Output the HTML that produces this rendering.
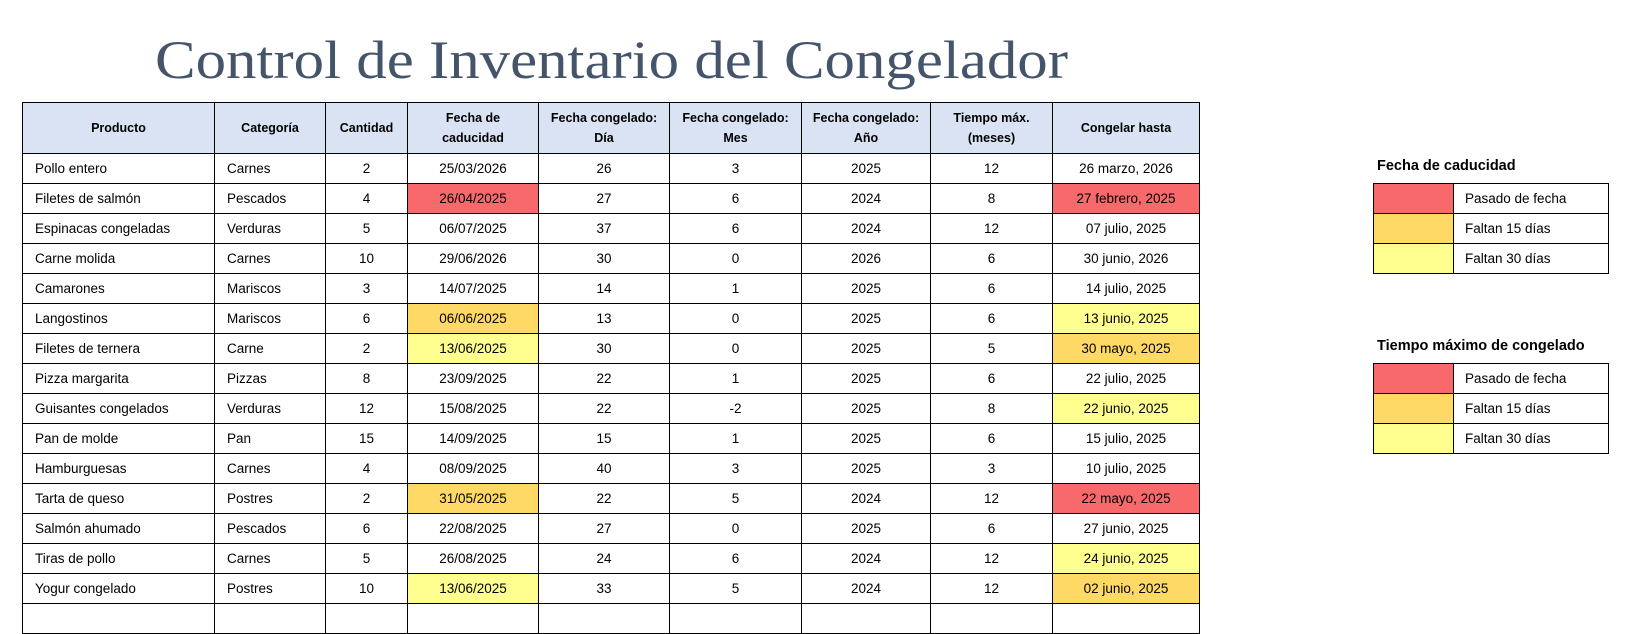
<!DOCTYPE html>
<html><head><meta charset="utf-8"><style>
body{margin:0;width:1637px;height:634px;background:#fff;position:relative;overflow:hidden;font-family:"Liberation Sans",sans-serif;}
table{border-collapse:collapse;table-layout:fixed;position:absolute;}
td{border:1px solid #000;padding:0;font-size:13.5px;color:#000;text-align:center;white-space:nowrap;overflow:hidden;}
#t{left:22px;top:102px;width:1177px;}
#t tr{height:30px;}
#t tr.h{height:51px;background:#dae3f3;}
#t tr.h td{font-weight:bold;font-size:12.5px;line-height:20px;}
td.l{text-align:left;padding-left:12px;}
.R{background:#f8696b}.O{background:#ffd966}.Y{background:#ffff8f}
.leg{left:1373px;width:236px;}
.leg tr{height:30px;}
.leg td.c{width:79px;}
.leg td.x{text-align:left;padding-left:11px;}
.lt{position:absolute;left:1377px;font-weight:bold;font-size:14.5px;}
</style></head><body>
<svg style="position:absolute;left:0;top:0" width="1637" height="100"><text x="155" y="78" textLength="913" lengthAdjust="spacingAndGlyphs" font-family="Liberation Serif, serif" font-size="54" fill="#44546a">Control de Inventario del Congelador</text></svg>
<table id="t">
<colgroup><col style="width:192px"><col style="width:111px"><col style="width:82px"><col style="width:131px"><col style="width:131px"><col style="width:132px"><col style="width:129px"><col style="width:122px"><col style="width:147px"></colgroup>
<tr class="h"><td>Producto</td><td>Categoría</td><td>Cantidad</td><td>Fecha de<br>caducidad</td><td>Fecha congelado:<br>Día</td><td>Fecha congelado:<br>Mes</td><td>Fecha congelado:<br>Año</td><td>Tiempo máx.<br>(meses)</td><td>Congelar hasta</td></tr>
<tr><td class="l">Pollo entero</td><td class="l">Carnes</td><td>2</td><td>25/03/2026</td><td>26</td><td>3</td><td>2025</td><td>12</td><td>26 marzo, 2026</td></tr>
<tr><td class="l">Filetes de salmón</td><td class="l">Pescados</td><td>4</td><td class="R">26/04/2025</td><td>27</td><td>6</td><td>2024</td><td>8</td><td class="R">27 febrero, 2025</td></tr>
<tr><td class="l">Espinacas congeladas</td><td class="l">Verduras</td><td>5</td><td>06/07/2025</td><td>37</td><td>6</td><td>2024</td><td>12</td><td>07 julio, 2025</td></tr>
<tr><td class="l">Carne molida</td><td class="l">Carnes</td><td>10</td><td>29/06/2026</td><td>30</td><td>0</td><td>2026</td><td>6</td><td>30 junio, 2026</td></tr>
<tr><td class="l">Camarones</td><td class="l">Mariscos</td><td>3</td><td>14/07/2025</td><td>14</td><td>1</td><td>2025</td><td>6</td><td>14 julio, 2025</td></tr>
<tr><td class="l">Langostinos</td><td class="l">Mariscos</td><td>6</td><td class="O">06/06/2025</td><td>13</td><td>0</td><td>2025</td><td>6</td><td class="Y">13 junio, 2025</td></tr>
<tr><td class="l">Filetes de ternera</td><td class="l">Carne</td><td>2</td><td class="Y">13/06/2025</td><td>30</td><td>0</td><td>2025</td><td>5</td><td class="O">30 mayo, 2025</td></tr>
<tr><td class="l">Pizza margarita</td><td class="l">Pizzas</td><td>8</td><td>23/09/2025</td><td>22</td><td>1</td><td>2025</td><td>6</td><td>22 julio, 2025</td></tr>
<tr><td class="l">Guisantes congelados</td><td class="l">Verduras</td><td>12</td><td>15/08/2025</td><td>22</td><td>-2</td><td>2025</td><td>8</td><td class="Y">22 junio, 2025</td></tr>
<tr><td class="l">Pan de molde</td><td class="l">Pan</td><td>15</td><td>14/09/2025</td><td>15</td><td>1</td><td>2025</td><td>6</td><td>15 julio, 2025</td></tr>
<tr><td class="l">Hamburguesas</td><td class="l">Carnes</td><td>4</td><td>08/09/2025</td><td>40</td><td>3</td><td>2025</td><td>3</td><td>10 julio, 2025</td></tr>
<tr><td class="l">Tarta de queso</td><td class="l">Postres</td><td>2</td><td class="O">31/05/2025</td><td>22</td><td>5</td><td>2024</td><td>12</td><td class="R">22 mayo, 2025</td></tr>
<tr><td class="l">Salmón ahumado</td><td class="l">Pescados</td><td>6</td><td>22/08/2025</td><td>27</td><td>0</td><td>2025</td><td>6</td><td>27 junio, 2025</td></tr>
<tr><td class="l">Tiras de pollo</td><td class="l">Carnes</td><td>5</td><td>26/08/2025</td><td>24</td><td>6</td><td>2024</td><td>12</td><td class="Y">24 junio, 2025</td></tr>
<tr><td class="l">Yogur congelado</td><td class="l">Postres</td><td>10</td><td class="Y">13/06/2025</td><td>33</td><td>5</td><td>2024</td><td>12</td><td class="O">02 junio, 2025</td></tr>
<tr><td></td><td></td><td></td><td></td><td></td><td></td><td></td><td></td><td></td></tr>
</table>
<div class="lt" style="top:158px">Fecha de caducidad</div>
<table class="leg" style="top:183px">
<tr><td class="c R"></td><td class="x">Pasado de fecha</td></tr>
<tr><td class="c O"></td><td class="x">Faltan 15 días</td></tr>
<tr><td class="c Y"></td><td class="x">Faltan 30 días</td></tr>
</table>
<div class="lt" style="top:338px">Tiempo máximo de congelado</div>
<table class="leg" style="top:363px">
<tr><td class="c R"></td><td class="x">Pasado de fecha</td></tr>
<tr><td class="c O"></td><td class="x">Faltan 15 días</td></tr>
<tr><td class="c Y"></td><td class="x">Faltan 30 días</td></tr>
</table>
</body></html>
